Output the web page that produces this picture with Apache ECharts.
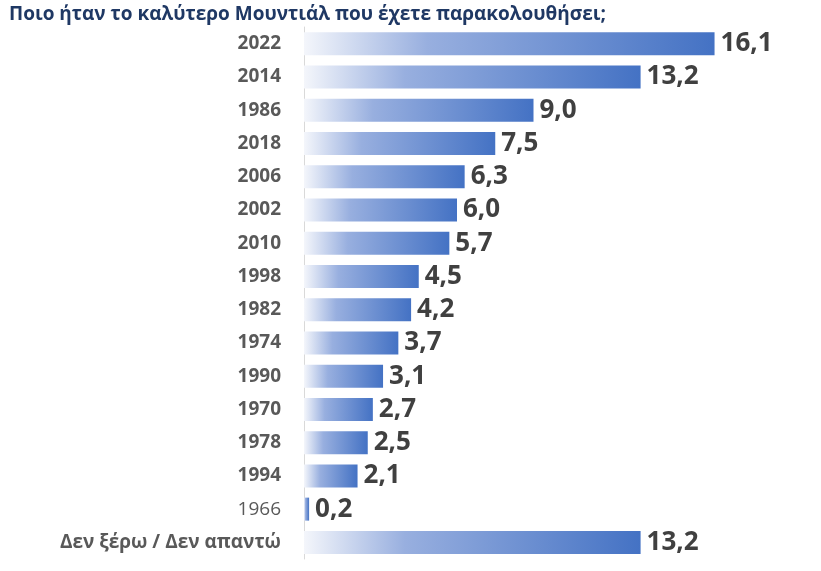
<!DOCTYPE html>
<html>
<head>
<meta charset="utf-8">
<script src="https://cdn.jsdelivr.net/npm/echarts@6/dist/echarts.min.js"></script>
<style>
  html, body { margin: 0; padding: 0; background: #fff; }
  #chart { width: 821px; height: 571px; }
</style>
</head>
<body>
<div id="chart"></div>
<script>
const titleText = 'Ποιο ήταν το καλύτερο Μουντιάλ που έχετε παρακολουθήσει;';
const categories = ['2022', '2014', '1986', '2018', '2006', '2002', '2010', '1998', '1982', '1974', '1990', '1970', '1978', '1994', '1966', 'Δεν ξέρω / Δεν απαντώ'];
const values = [16.1, 13.2, 9.0, 7.5, 6.3, 6.0, 5.7, 4.5, 4.2, 3.7, 3.1, 2.7, 2.5, 2.1, 0.2, 13.2];

const chart = echarts.init(document.getElementById('chart'));

const barGradient = new echarts.graphic.LinearGradient(0, 0, 1, 0, [
  { offset: 0, color: '#f4f6fb' },
  { offset: 0.3, color: '#98afdf' },
  { offset: 1, color: '#4472c4' }
]);

const option = {
  animation: false,
  textStyle: { fontFamily: 'Open Sans' },
  title: {
    text: titleText,
    left: 4,
    top: 0,
    textStyle: { fontFamily: 'Open Sans', fontSize: 19, fontWeight: 'bold', color: '#1f3864' }
  },
  grid: { left: 304, right: 7, top: 27, bottom: 12 },
  xAxis: {
    type: 'value',
    min: 0,
    max: 20,
    show: false
  },
  yAxis: {
    type: 'category',
    inverse: true,
    data: categories.map(c => c === '1966'
      ? { value: c, textStyle: { fontWeight: 'normal' } }
      : c),
    axisLine: { show: true, lineStyle: { color: '#d9d9d9', width: 1 } },
    axisTick: { show: false },
    axisLabel: {
      color: '#595959',
      fontSize: 19,
      fontWeight: 'bold',
      margin: 23
    }
  },
  series: [
    {
      type: 'bar',
      data: values,
      barWidth: 23,
      itemStyle: { color: barGradient },
      label: {
        show: true,
        position: 'right',
        distance: 6,
        color: '#404040',
        fontSize: 26,
        fontWeight: 'bold',
        formatter: p => p.value.toFixed(1).replace('.', ',')
      }
    }
  ]
};

chart.setOption(option);
window.addEventListener('resize', function() {
  chart.resize();
});
</script>
</body>
</html>
